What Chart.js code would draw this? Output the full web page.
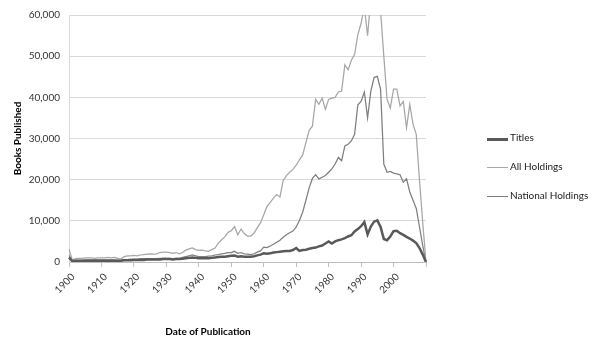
<!DOCTYPE html>
<html>
<head>
<meta charset="utf-8">
<script src="https://cdn.jsdelivr.net/npm/chart.js@4"></script>
<style>
  html, body { margin: 0; padding: 0; background: #fff; }
  #wrap { position: relative; width: 600px; height: 354px; }
  #xTitle { position: absolute; left: 108px; width: 200px; top: 325px; text-align: center;
            font: bold 10px Lato; color: #000; }
  #legend { position: absolute; left: 487px; top: 131px; font: 10px Lato; color: #1a1a1a; }
  #legend .item { height: 29px; display: flex; align-items: flex-start; }
  #legend .swatch { width: 21px; margin-top: 7px; margin-right: 2px; }
</style>
</head>
<body>
<div id="wrap">
  <canvas id="chart" width="600" height="354"></canvas>
  <div id="xTitle">Date of Publication</div>
  <div id="legend"></div>
</div>
<script>
const years = [
  1900, 1901, 1902, 1903, 1904, 1905, 1906, 1907, 1908, 1909,
  1910, 1911, 1912, 1913, 1914, 1915, 1916, 1917, 1918, 1919,
  1920, 1921, 1922, 1923, 1924, 1925, 1926, 1927, 1928, 1929,
  1930, 1931, 1932, 1933, 1934, 1935, 1936, 1937, 1938, 1939,
  1940, 1941, 1942, 1943, 1944, 1945, 1946, 1947, 1948, 1949,
  1950, 1951, 1952, 1953, 1954, 1955, 1956, 1957, 1958, 1959,
  1960, 1961, 1962, 1963, 1964, 1965, 1966, 1967, 1968, 1969,
  1970, 1971, 1972, 1973, 1974, 1975, 1976, 1977, 1978, 1979,
  1980, 1981, 1982, 1983, 1984, 1985, 1986, 1987, 1988, 1989,
  1990, 1991, 1992, 1993, 1994, 1995, 1996, 1997, 1998, 1999,
  2000, 2001, 2002, 2003, 2004, 2005, 2006, 2007, 2008, 2009,
  2010
];

const titles = [
  1100, 200, 300, 300, 300, 300, 300, 300, 300, 300,
  300, 300, 300, 300, 300, 300, 300, 400, 400, 400,
  500, 500, 500, 500, 600, 600, 600, 600, 600, 700,
  700, 700, 600, 700, 700, 800, 900, 1000, 1100, 1000,
  900, 900, 900, 900, 1000, 1100, 1200, 1300, 1300, 1400,
  1500, 1600, 1300, 1400, 1300, 1300, 1300, 1400, 1600, 1800,
  2100, 2000, 2100, 2300, 2400, 2500, 2600, 2700, 2700, 2900,
  3400, 2700, 2900, 3000, 3200, 3400, 3500, 3800, 4000, 4500,
  5000, 4500, 5000, 5300, 5500, 5800, 6200, 6500, 7400, 8000,
  8700, 9700, 6700, 8600, 9800, 10100, 8500, 5600, 5300, 6200,
  7500, 7600, 7000, 6600, 6100, 5700, 5200, 4600, 3400, 1800,
  0
];

const allHoldings = [
  3100, 500, 800, 900, 900, 1000, 1000, 1000, 900, 1000,
  1000, 1000, 1100, 1000, 1100, 900, 700, 1300, 1500, 1500,
  1600, 1500, 1700, 1800, 1900, 2000, 1900, 2000, 2300, 2400,
  2400, 2300, 2100, 2300, 2000, 2300, 2900, 3200, 3400, 3000,
  2800, 2900, 2700, 2600, 3000, 3400, 4600, 5400, 6100, 7200,
  7600, 8600, 6600, 8000, 6900, 6300, 6300, 7000, 8300, 9500,
  11500, 13500, 14500, 15500, 16400, 15800, 19800, 21000, 21800, 22500,
  23500, 24800, 26000, 29000, 32000, 33000, 39500, 38300, 39800, 37100,
  39500, 39800, 40000, 41300, 41500, 47900, 46700, 49000, 50400, 55200,
  58000, 62000, 55000, 64000, 70000, 72000, 61000, 50000, 39500, 37400,
  42000, 42000, 37900, 39000, 32600, 38300, 33500, 31000, 19800, 9500,
  0
];

const nationalHoldings = [
  1600, 300, 400, 400, 400, 500, 500, 500, 500, 500,
  500, 500, 500, 500, 500, 400, 400, 600, 600, 700,
  700, 700, 800, 800, 800, 800, 800, 800, 900, 900,
  900, 900, 800, 900, 900, 1100, 1300, 1500, 1700, 1500,
  1300, 1300, 1300, 1400, 1500, 1700, 1800, 2000, 2100, 2300,
  2300, 2600, 2100, 2300, 2000, 1900, 1800, 2000, 2400, 2700,
  3600, 3500, 3900, 4300, 4800, 5300, 6000, 6600, 7100, 7500,
  8500, 10100, 12100, 15000, 18000, 20300, 21200, 20200, 20600, 21000,
  21800, 22600, 23800, 25400, 24600, 28200, 28600, 29400, 31000, 38200,
  39000, 41300, 35000, 41500, 44800, 45100, 42000, 23800, 21800, 22000,
  21600, 21400, 21200, 19400, 20200, 17000, 15000, 13000, 8500, 4000,
  0
];

const seriesNames = ['Titles', 'All Holdings', 'National Holdings'];
const seriesColors = ['#595959', '#a6a6a6', '#7f7f7f'];
const seriesWidths = [2.5, 1.25, 1.25];
const seriesData = [titles, allHoldings, nationalHoldings];

const tickFont = { family: 'Lato', size: 10 };

const ctx = document.getElementById('chart').getContext('2d');
const chart = new Chart(ctx, {
  type: 'line',
  data: {
    labels: years,
    datasets: seriesNames.map((name, i) => ({
      label: name,
      data: seriesData[i],
      borderColor: seriesColors[i],
      borderWidth: seriesWidths[i],
      pointRadius: 0,
      tension: 0,
      fill: false
    }))
  },
  options: {
    responsive: false,
    animation: false,
    layout: { padding: { left: 8, right: 174, top: 13, bottom: 12 } },
    plugins: {
      legend: { display: false },
      tooltip: { enabled: false }
    },
    scales: {
      x: {
        type: 'category',
        afterFit: function(scale) { scale.height = 80; },
        ticks: {
          autoSkip: false,
          maxRotation: 45,
          minRotation: 45,
          padding: 4,
          labelOffset: 4,
          color: '#333333',
          font: tickFont,
          callback: function(value, index) {
            const y = years[index];
            return (y % 10 === 0 && y < 2010) ? String(y) : '';
          }
        },
        grid: {
          drawOnChartArea: false,
          drawTicks: true,
          tickLength: 5,
          color: function(c) {
            const y = years[c.index];
            return (y !== undefined && y % 10 === 0) ? '#bfbfbf' : 'rgba(0,0,0,0)';
          }
        },
        border: { display: true, color: '#bfbfbf' }
      },
      y: {
        min: 0,
        max: 60000,
        afterFit: function(scale) { scale.width = 61; },
        ticks: {
          stepSize: 10000,
          padding: 9,
          color: '#333333',
          font: tickFont,
          callback: function(value) { return value.toLocaleString('en-US'); }
        },
        grid: { color: '#d9d9d9', drawTicks: false },
        border: { display: true, color: '#d9d9d9' },
        title: {
          display: true,
          text: 'Books Published',
          color: '#000',
          font: { family: 'Lato', size: 10, weight: 'bold' },
          padding: { top: 4, bottom: 4 }
        }
      }
    }
  }
});

// html legend built from the same series lists
const legend = document.getElementById('legend');
seriesNames.forEach((name, i) => {
  const item = document.createElement('div');
  item.className = 'item';
  const sw = document.createElement('span');
  sw.className = 'swatch';
  sw.style.height = Math.round(seriesWidths[i]) + 'px';
  sw.style.background = seriesColors[i];
  const label = document.createElement('span');
  label.textContent = name;
  item.appendChild(sw);
  item.appendChild(label);
  legend.appendChild(item);
});
</script>
</body>
</html>
